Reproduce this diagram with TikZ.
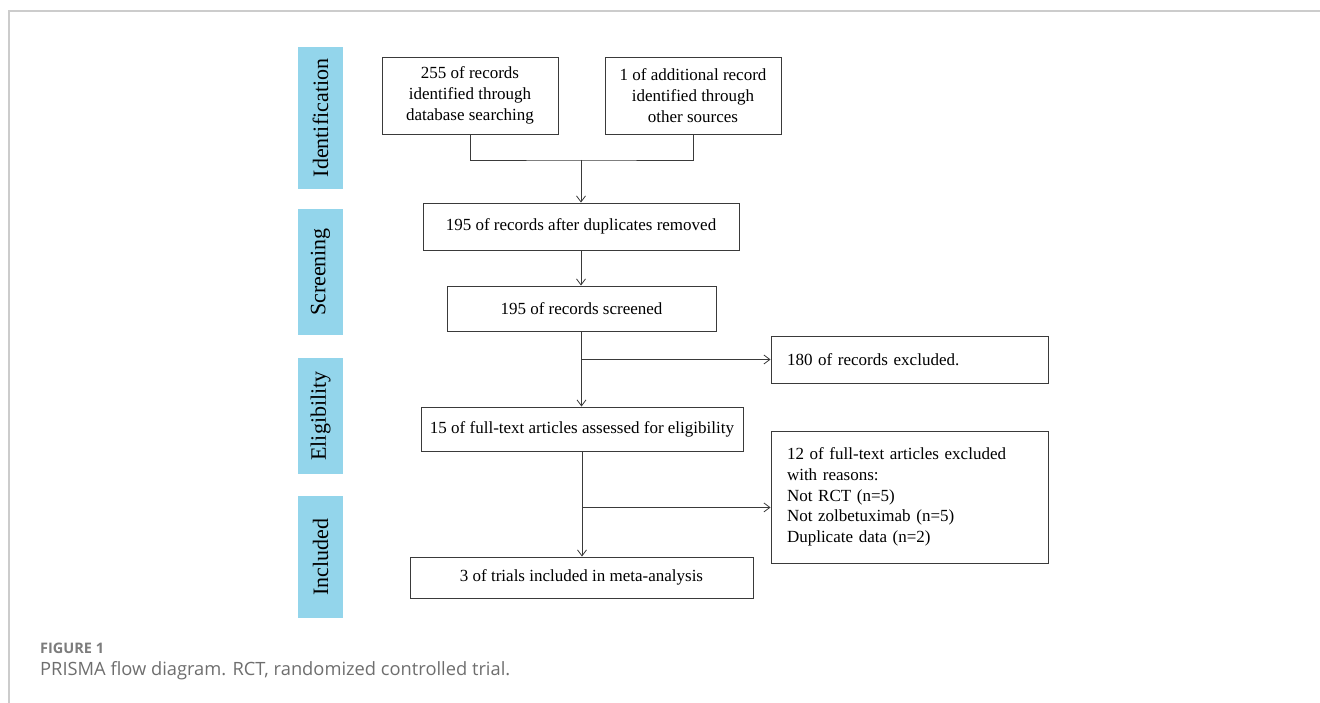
\documentclass[tikz,border=0pt]{standalone}
\usepackage{fontspec}
\setmainfont{Liberation Serif}
\newfontfamily\captionfont{Open Sans}
\usetikzlibrary{arrows.meta,calc,positioning}
\definecolor{stageblue}{HTML}{93D5EB}
\definecolor{framegray}{HTML}{CCCCCC}
\definecolor{captiongray}{HTML}{6E6E6E}
\definecolor{boxline}{HTML}{3A3A3A}

\tikzset{
  box/.style={draw=boxline, line width=0.9pt, inner sep=0pt, align=center,
    font=\fontsize{17}{21}\selectfont},
  stage/.style={fill=stageblue, rotate=90, minimum height=45pt, inner sep=0pt,
    font=\fontsize{22}{24}\selectfont},
  flow/.style={draw=boxline, line width=0.8pt},
}

\begin{document}
\begin{tikzpicture}[x=1pt,y=-1pt,>={Straight Barb[length=6pt,width=9pt]}]
  \useasboundingbox (0,0) rectangle (1320,703);
  \draw[framegray, line width=1.3pt] (9,703) -- (9,11) -- (1320,11);

  % stage labels
  \node[stage, minimum width=142pt] (ident) at (320.5,118) {Identification};
  \node[stage, minimum width=126pt] (scrn) at (320.5,272) {Screening};
  \node[stage, minimum width=116pt] (elig) at (320.5,416) {Eligibility};
  \node[stage, minimum width=122pt] (inc) at (320.5,557) {Included};

  % boxes
  \node[box, minimum width=176pt, minimum height=77pt] (db) at (470,95.5)
    {255 of records\\identified through\\database searching};
  \node[box, minimum width=176pt, minimum height=77pt] (other) at (693,95.5)
    {1 of additional record\\identified through\\other sources};
  \node[box, minimum width=316pt, minimum height=47pt] (dup) at (581,226.5)
    {195 of records after duplicates removed};
  \node[box, minimum width=269pt, minimum height=45pt] (screen) at (581.5,308.5)
    {195 of records screened};
  \node[box, minimum width=277pt, minimum height=47pt, align=left, text width=245pt,
    inner xsep=16pt] (excl) at (909.5,359.5) {180 of records excluded.};
  \node[box, minimum width=322pt, minimum height=44pt] (full) at (582,429)
    {15 of full-text articles assessed for eligibility};
  \node[box, minimum height=132pt, align=left, text width=245pt, inner xsep=16pt,
    font=\fontsize{17}{20.7}\selectfont] (reasons) at (909.5,497)
    {12 of full-text articles excluded\\with reasons:\\Not RCT (n=5)\\
     Not zolbetuximab (n=5)\\Duplicate data (n=2)};
  \node[box, minimum width=343pt, minimum height=41pt] (incl) at (581.5,577.5)
    {3 of trials included in meta-analysis};

  % connectors
  \coordinate (join) at (581,160);
  \draw[flow] (db.south) |- (join) -| (other.south);
  \draw[flow,->] (join) -- (join |- dup.north);
  \draw[flow,->] (dup.south) -- (dup.south |- screen.north);
  \draw[flow,->] (screen.south) -- (screen.south |- full.north);
  \draw[flow,->] (screen.south |- excl.west) -- (excl.west);
  \draw[flow,->] (full.south) -- (full.south |- incl.north);
  \coordinate (split) at ($(full.south)+(0,56)$);
  \draw[flow,->] (split) -- (split -| reasons.west);

  % caption
  \node[anchor=west, inner sep=0pt, text=captiongray!90,
    font=\captionfont\bfseries\fontsize{14.5}{17}\selectfont] (figlabel) at (40,648) {FIGURE 1};
  \node[anchor=west, inner sep=0pt, text=captiongray,
    font=\captionfont\fontsize{18.3}{21}\selectfont] (figtext) at (40,671)
    {PRISMA flow diagram. RCT, randomized controlled trial.};
\end{tikzpicture}
\end{document}
